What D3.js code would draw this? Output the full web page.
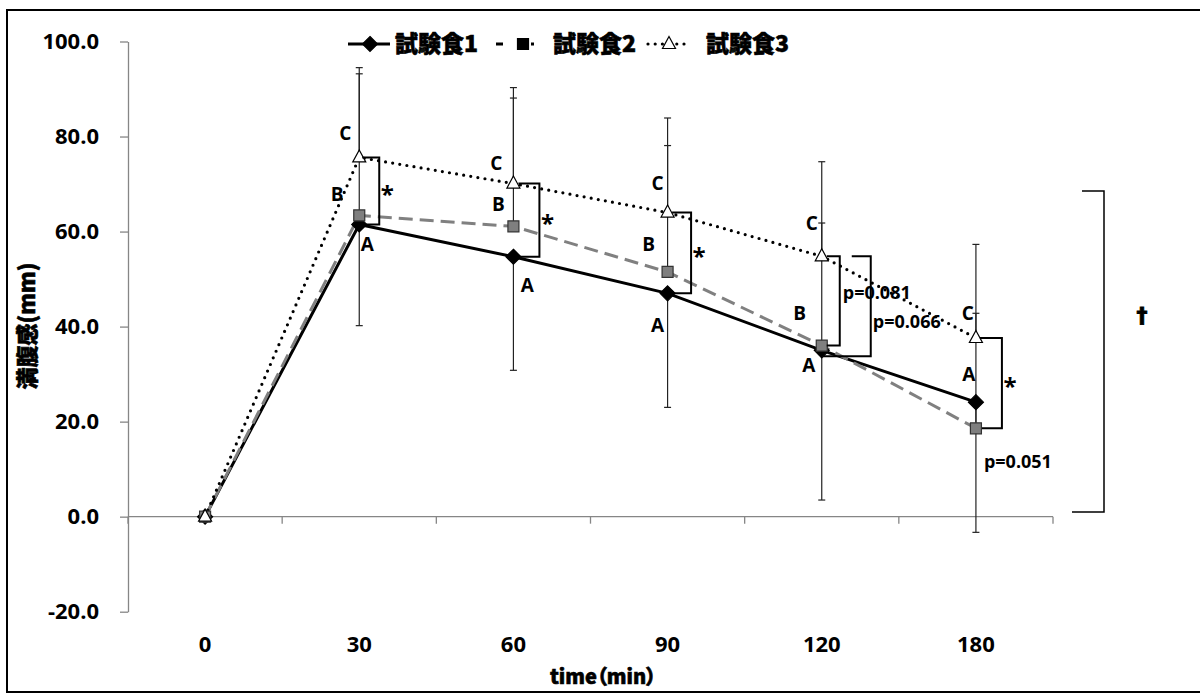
<!DOCTYPE html>
<html>
<head>
<meta charset="utf-8">
<script src="https://cdn.jsdelivr.net/npm/d3@7"></script>
<style>
  body { margin: 0; background: #fff; }
  svg { display: block; }
</style>
</head>
<body>
<svg width="1200" height="697"></svg>
<script>

// data
var cats = ["0", "30", "60", "90", "120", "180"];
var food1 = [0, 61.5, 54.7, 47.0, 35.0, 24.1];
var food2 = [0, 63.4, 61.1, 51.5, 36.0, 18.6];
var food3 = [0, 75.6, 70.1, 64.0, 54.8, 37.6];
var sd1 = [0, 21.3, 23.9, 24.0, 31.5, 27.4];   // shown below the point
var sd2 = [0, 29.8, 27.0, 26.6, 25.8, 24.2];   // shown above
var sd3 = [0, 18.9, 20.2, 19.9, 19.9, 19.7];   // shown above
var names = ["試験食1", "試験食2", "試験食3"];
var yTicks = [-20, 0, 20, 40, 60, 80, 100];

var svg = d3.select("svg");
var numFont = "'Open Sans', 'Liberation Sans', sans-serif";
var jpFont = "'Noto Sans CJK JP', sans-serif";

svg.append("rect")
    .attr("x", 7).attr("y", 10)
    .attr("width", 1200).attr("height", 682)
    .attr("fill", "#fff")
    .attr("stroke", "#000")
    .attr("stroke-width", 2);

var x = d3.scaleBand().domain(cats).range([128, 1053]);
var y = d3.scaleLinear().domain([-20, 100]).range([611.7, 41.5]);
var cx = function(c) { return x(c) + x.bandwidth() / 2; };

var series = [
  { values: food1, sd: sd1, dir: -1, stroke: "#000", dash: null, width: 3, marker: "diamond" },
  { values: food2, sd: sd2, dir: 1, stroke: "#808080", dash: "14,7", width: 3, marker: "square" },
  { values: food3, sd: sd3, dir: 1, stroke: "#000", dash: "0,7.2", width: 3.2, marker: "triangle" }
];

var markerPath = {
  diamond: "M0,-7.5L7.5,0L0,7.5L-7.5,0Z",
  square: "M-5.5,-5.5H5.5V5.5H-5.5Z",
  triangle: "M0,-7.5L6.5,4.5L-6.5,4.5Z"
};
var markerFill = { diamond: "#000", square: "#7f7f7f", triangle: "#fff" };
var markerStroke = { diamond: "#000", square: "#333", triangle: "#000" };

// y axis
var yAxis = d3.axisLeft(y)
    .tickValues(yTicks)
    .tickSize(8)
    .tickSizeOuter(0)
    .tickPadding(21)
    .tickFormat(function(d) { return d.toFixed(1); });

var ga = svg.append("g")
    .attr("transform", "translate(128,0)")
    .call(yAxis);
ga.select(".domain").attr("stroke", "#868686").attr("stroke-width", 1.3);
ga.selectAll(".tick line").attr("stroke", "#868686").attr("stroke-width", 1.3);
ga.selectAll(".tick text")
    .attr("fill", "#000")
    .style("font-family", numFont)
    .style("font-weight", "bold")
    .style("font-size", "22px");

// x axis at zero, ticks between categories
var bounds = d3.range(cats.length + 1).map(function(i) { return x.range()[0] + i * x.step(); });
svg.append("line")
    .attr("x1", x.range()[0]).attr("x2", x.range()[1])
    .attr("y1", y(0)).attr("y2", y(0))
    .attr("stroke", "#868686").attr("stroke-width", 1.3);
svg.selectAll(".xtick")
    .data(bounds)
    .enter()
    .append("line")
    .attr("class", "xtick")
    .attr("x1", function(d) { return d; }).attr("x2", function(d) { return d; })
    .attr("y1", y(0)).attr("y2", y(0) + 7)
    .attr("stroke", "#868686").attr("stroke-width", 1.3);
svg.selectAll(".xlab")
    .data(cats)
    .enter()
    .append("text")
    .attr("class", "xlab")
    .attr("x", cx)
    .attr("y", 644)
    .attr("dy", "0.35em")
    .attr("text-anchor", "middle")
    .style("font-family", numFont)
    .style("font-weight", "bold")
    .style("font-size", "22px")
    .text(function(d) { return d; });

svg.append("text")
    .attr("x", 603).attr("y", 677)
    .attr("dy", "0.35em")
    .attr("text-anchor", "middle")
    .attr("stroke", "#000").attr("stroke-width", 0.6)
    .style("font-family", jpFont)
    .style("font-weight", 900)
    .style("font-size", "20px")
    .style("font-feature-settings", "'palt'")
    .text("time（min）");

svg.append("text")
    .attr("transform", "translate(27,326) rotate(-90)")
    .attr("dy", "0.35em")
    .attr("text-anchor", "middle")
    .attr("stroke", "#000").attr("stroke-width", 0.6)
    .style("font-family", jpFont)
    .style("font-weight", 900)
    .style("font-size", "22px")
    .text("満腹感(mm)");

// lines, error bars, markers
series.forEach(function(s) {
  var line = d3.line()
      .x(function(d, i) { return cx(cats[i]); })
      .y(function(d) { return y(d); });

  svg.append("path")
      .datum(s.values)
      .attr("d", line)
      .attr("fill", "none")
      .attr("stroke", s.stroke)
      .attr("stroke-width", s.width)
      .attr("stroke-linecap", s.dash === "0,7.2" ? "round" : "butt")
      .attr("stroke-dasharray", s.dash);
});

series.forEach(function(s) {
  var eb = svg.append("g").attr("stroke", "#222").attr("stroke-width", 1.2);
  s.values.forEach(function(v, i) {
    if (!s.sd[i]) return;
    var c = cx(cats[i]), end = y(v + s.dir * s.sd[i]);
    eb.append("line").attr("x1", c).attr("x2", c).attr("y1", y(v)).attr("y2", end);
    eb.append("line").attr("x1", c - 3.5).attr("x2", c + 3.5).attr("y1", end).attr("y2", end);
  });
});

series.forEach(function(s) {
  svg.selectAll(null)
      .data(s.values)
      .enter()
      .append("path")
      .attr("d", markerPath[s.marker])
      .attr("transform", function(d, i) { return "translate(" + cx(cats[i]) + "," + y(d) + ")"; })
      .attr("fill", markerFill[s.marker])
      .attr("stroke", markerStroke[s.marker])
      .attr("stroke-width", 1.2);
});

// significance brackets (top series -> bottom series)
var brackets = [
  { cat: "30", top: 2, bot: 0, xa: 3, xv: 20, xb: 5, star: true },
  { cat: "60", top: 2, bot: 0, xa: 5, xv: 26, xb: 5, star: true },
  { cat: "90", top: 2, bot: 0, xa: 4.5, xv: 23.5, xb: 5, star: true },
  { cat: "120", top: 2, bot: 1, xa: 5, xv: 18, xb: 5, star: false },
  { cat: "120", top: 2, bot: 0, xa: 30, xv: 49, xb: 1, star: false, dyb: 6 },
  { cat: "180", top: 2, bot: 1, xa: 4, xv: 26, xb: 6, star: true }
];
brackets.forEach(function(b) {
  var i = cats.indexOf(b.cat), c = cx(b.cat);
  var y1 = y(series[b.top].values[i]), y2 = y(series[b.bot].values[i]) + (b.dyb || 0);
  svg.append("path")
      .attr("d", "M" + (c + b.xa) + "," + y1 + "H" + (c + b.xv) + "V" + y2 + "H" + (c + b.xb))
      .attr("fill", "none")
      .attr("stroke", "#000")
      .attr("stroke-width", 2);
  if (b.star) {
    svg.append("text")
        .attr("x", c + b.xv + 8)
        .attr("y", (y1 + y2) / 2 + 12)
        .attr("text-anchor", "middle")
        .style("font-family", numFont)
        .style("font-weight", "bold")
        .style("font-size", "24px")
        .text("*");
  }
});

// letters beside the points
var letters = [
  { cat: "30", s: 2, t: "C", dx: -14, dy: -24 }, { cat: "30", s: 1, t: "B", dx: -22, dy: -21 }, { cat: "30", s: 0, t: "A", dx: 8, dy: 20 },
  { cat: "60", s: 2, t: "C", dx: -17, dy: -20 }, { cat: "60", s: 1, t: "B", dx: -15, dy: -22 }, { cat: "60", s: 0, t: "A", dx: 14, dy: 28 },
  { cat: "90", s: 2, t: "C", dx: -10, dy: -29 }, { cat: "90", s: 1, t: "B", dx: -19, dy: -28 }, { cat: "90", s: 0, t: "A", dx: -10, dy: 32 },
  { cat: "120", s: 2, t: "C", dx: -10, dy: -33 }, { cat: "120", s: 1, t: "B", dx: -22, dy: -32 }, { cat: "120", s: 0, t: "A", dx: -13, dy: 15 },
  { cat: "180", s: 2, t: "C", dx: -8, dy: -25 }, { cat: "180", s: 0, t: "A", dx: -7, dy: -28 }
];
svg.selectAll(".letter")
    .data(letters)
    .enter()
    .append("text")
    .attr("class", "letter")
    .attr("x", function(d) { return cx(d.cat) + d.dx; })
    .attr("y", function(d) { return y(series[d.s].values[cats.indexOf(d.cat)]) + d.dy; })
    .attr("dy", "0.36em")
    .attr("text-anchor", "middle")
    .style("font-family", numFont)
    .style("font-weight", "bold")
    .style("font-size", "19px")
    .text(function(d) { return d.t; });

var pvals = [
  { cat: "120", t: "p=0.081", dx: 21, y: 293 },
  { cat: "120", t: "p=0.066", dx: 51, y: 322 },
  { cat: "180", t: "p=0.051", dx: 8, y: 462 }
];
svg.selectAll(".pval")
    .data(pvals)
    .enter()
    .append("text")
    .attr("class", "pval")
    .attr("x", function(d) { return cx(d.cat) + d.dx; })
    .attr("y", function(d) { return d.y; })
    .attr("dy", "0.36em")
    .style("font-family", numFont)
    .style("font-weight", "bold")
    .style("font-size", "18px")
    .text(function(d) { return d.t; });

// overall bracket with dagger
svg.append("path")
    .attr("d", "M1082,191H1104V512H1072")
    .attr("fill", "none")
    .attr("stroke", "#000")
    .attr("stroke-width", 1.5);
svg.append("text")
    .attr("x", 1142).attr("y", 315)
    .attr("dy", "0.36em")
    .attr("text-anchor", "middle")
    .attr("stroke", "#000").attr("stroke-width", 0.8)
    .style("font-family", "'DejaVu Sans', sans-serif")
    .style("font-weight", "bold")
    .style("font-size", "22px")
    .text("†");

// legend
var legend = [
  { x1: 348, x2: 390, mx: 370, tx: 395, dash: null },
  { x1: 496, x2: 534, mx: 523, tx: 553, dash: "7,28,3" },
  { x1: 648, x2: 690, mx: 669, tx: 706, dash: "0,7.2" }
];
legend.forEach(function(l, i) {
  var s = series[i];
  svg.append("line")
      .attr("x1", l.x1).attr("x2", l.x2).attr("y1", 44).attr("y2", 44)
      .attr("stroke", i === 1 ? "#000" : s.stroke)
      .attr("stroke-width", s.width)
      .attr("stroke-linecap", i === 2 ? "round" : "butt")
      .attr("stroke-dasharray", l.dash);
  svg.append("path")
      .attr("d", markerPath[s.marker])
      .attr("transform", "translate(" + l.mx + ",44)")
      .attr("fill", i === 1 ? "#000" : markerFill[s.marker])
      .attr("stroke", "#000")
      .attr("stroke-width", 1.2);
  svg.append("text")
      .attr("x", l.tx).attr("y", 44)
      .attr("dy", "0.36em")
      .attr("stroke", "#000").attr("stroke-width", 0.6)
      .style("font-family", jpFont)
      .style("font-weight", 900)
      .style("font-size", "23px")
      .text(names[i]);
});

</script>
</body>
</html>
